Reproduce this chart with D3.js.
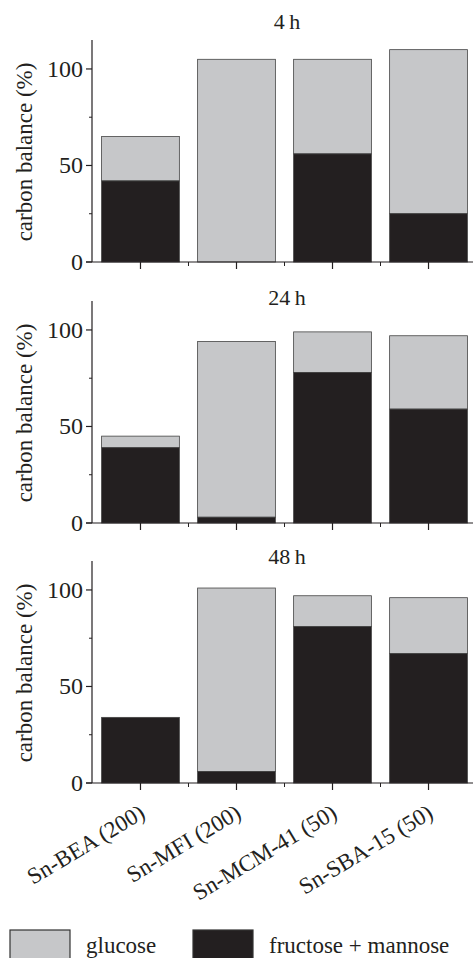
<!DOCTYPE html>
<html>
<head>
<meta charset="utf-8">
<script src="https://cdn.jsdelivr.net/npm/d3@7"></script>
<style>
  body { margin: 0; background: #fff; }
  text { font-family: "Liberation Serif", "DejaVu Serif", serif; fill: #231f20; }
</style>
</head>
<body>
<div id="vis"></div>
<script>
// catalysts on the x axis
const catalysts = ["Sn-BEA (200)", "Sn-MFI (200)", "Sn-MCM-41 (50)", "Sn-SBA-15 (50)"];
// reaction times, one panel each
const times = ["4\u2009h", "24\u2009h", "48\u2009h"];
// fructose + mannose yields per panel
const fructMannose = [
  [42, 0, 56, 25],
  [39, 3, 78, 59],
  [34, 6, 81, 67]
];
// total carbon balance per panel (top of the stack)
const totals = [
  [65, 105, 105, 110],
  [45, 94, 99, 97],
  [34, 101, 97, 96]
];
const yTicks = [0, 50, 100];
const yMinor = [25, 75];

const width = 473, height = 958;
const left = 92, right = 477;
const zeros = [262, 523, 783];
const titleY = [29, 305, 564];
const panelH = 222;

const grey = "#c6c7c9", black = "#231f20";

const svg = d3.select("#vis").append("svg")
  .attr("width", width).attr("height", height);

const x = d3.scaleBand().domain(catalysts).range([left, right]).paddingInner(0.19).paddingOuter(0.1);
const step = x.step();

times.forEach((t, i) => {
  const y = d3.scaleLinear().domain([0, 115]).range([zeros[i], zeros[i] - panelH]);
  const g = svg.append("g");

  const rows = catalysts.map((c, j) => ({ c, fm: fructMannose[i][j], tot: totals[i][j] }));

  // glucose (upper part)
  g.selectAll(".glu").data(rows).enter().append("rect")
    .attr("x", d => x(d.c)).attr("width", x.bandwidth())
    .attr("y", d => y(d.tot)).attr("height", d => y(d.fm) - y(d.tot))
    .attr("fill", grey).attr("stroke", "#444").attr("stroke-width", 0.8);
  // fructose + mannose (lower part)
  g.selectAll(".fm").data(rows).enter().append("rect")
    .attr("x", d => x(d.c)).attr("width", x.bandwidth())
    .attr("y", d => y(d.fm)).attr("height", d => y(0) - y(d.fm))
    .attr("fill", black).attr("stroke", "#444").attr("stroke-width", d => d.fm > 0 ? 0.8 : 0);

  // y axis
  g.append("line").attr("x1", left).attr("x2", left)
    .attr("y1", y(115)).attr("y2", y(0)).attr("stroke", black).attr("stroke-width", 1.2);
  yTicks.forEach(v => {
    g.append("line").attr("x1", left - 6).attr("x2", left).attr("y1", y(v)).attr("y2", y(v))
      .attr("stroke", black).attr("stroke-width", 1.2);
    g.append("text").attr("x", left - 9).attr("y", y(v) + 8).attr("text-anchor", "end")
      .style("font-size", "24px").text(v);
  });
  yMinor.forEach(v => {
    g.append("line").attr("x1", left - 3).attr("x2", left).attr("y1", y(v)).attr("y2", y(v))
      .attr("stroke", black).attr("stroke-width", 1);
  });

  // x axis
  g.append("line").attr("x1", left - 6).attr("x2", right).attr("y1", y(0)).attr("y2", y(0))
    .attr("stroke", black).attr("stroke-width", 1.2);
  catalysts.forEach((c, j) => {
    const cx = x(c) + x.bandwidth() / 2;
    g.append("line").attr("x1", cx).attr("x2", cx).attr("y1", y(0)).attr("y2", y(0) + 7)
      .attr("stroke", black).attr("stroke-width", 1.2);
    if (j > 0) {
      const bx = cx - step / 2;
      g.append("line").attr("x1", bx).attr("x2", bx).attr("y1", y(0)).attr("y2", y(0) + 4)
        .attr("stroke", black).attr("stroke-width", 1);
    }
  });

  g.append("text").attr("x", 287).attr("y", titleY[i]).attr("text-anchor", "middle")
    .style("font-size", "22px").text(t);

  g.append("text")
    .attr("transform", `translate(32,${y(57)}) rotate(-90)`)
    .attr("text-anchor", "middle").style("font-size", "23px")
    .text("carbon balance (%)");

  if (i === times.length - 1) {
    catalysts.forEach(c => {
      const cx = x(c) + x.bandwidth() / 2;
      g.append("text")
        .attr("transform", `translate(${cx + 6},${y(0) + 34}) rotate(-31)`)
        .attr("text-anchor", "end").style("font-size", "23px").text(c);
    });
  }
});

// legend
const legend = [{ label: "glucose", color: grey, x: 10 }, { label: "fructose + mannose", color: black, x: 193 }];
legend.forEach(l => {
  svg.append("rect").attr("x", l.x).attr("y", 930).attr("width", 60).attr("height", 30)
    .attr("fill", l.color).attr("stroke", "#333").attr("stroke-width", 1.2);
  svg.append("text").attr("x", l.x + 76).attr("y", 953).style("font-size", "23px").text(l.label);
});
</script>
</body>
</html>
